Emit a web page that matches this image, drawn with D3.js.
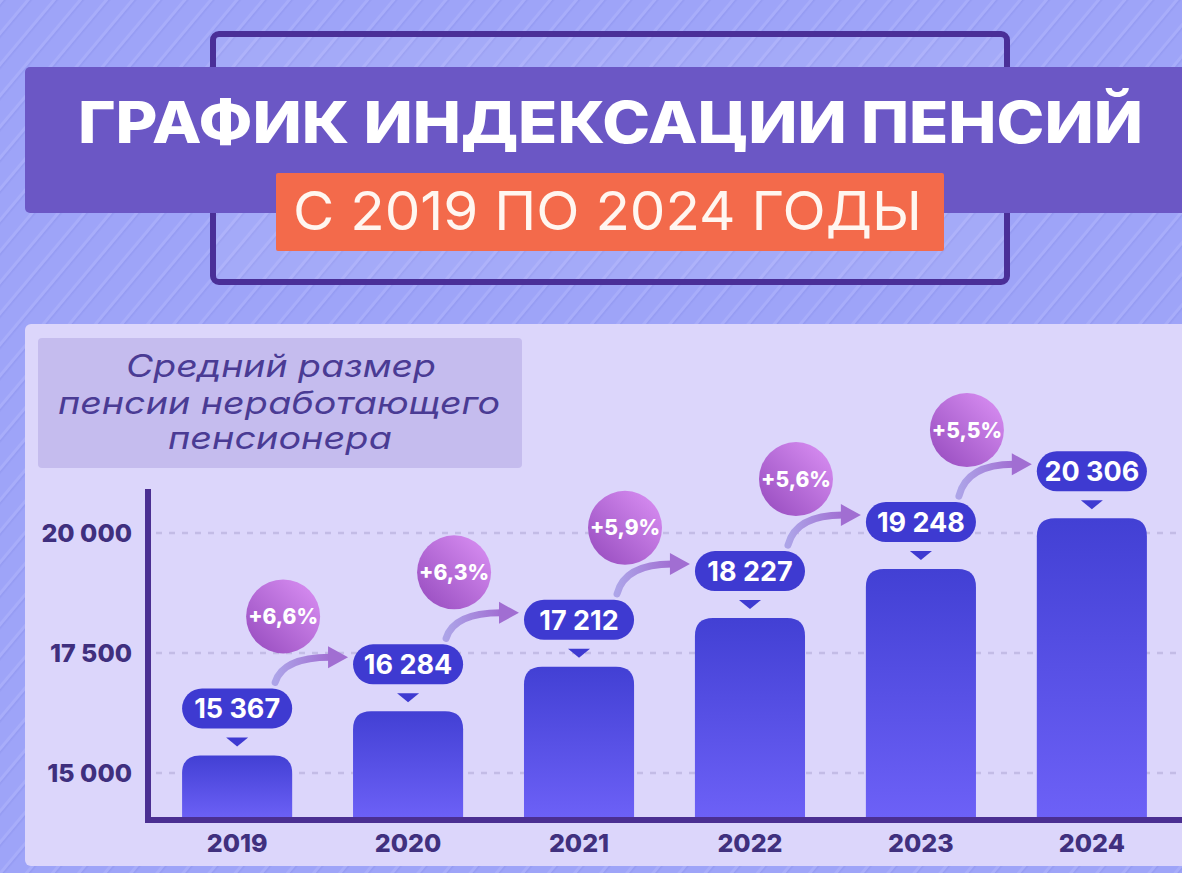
<!DOCTYPE html>
<html>
<head>
<meta charset="utf-8">
<script src="https://cdnjs.cloudflare.com/ajax/libs/d3/7.8.5/d3.min.js"></script>
<style>
  html, body { margin: 0; padding: 0; background: #9ea4f8; }
  svg { display: block; }
  text { font-family: Inter, 'Open Sans', 'Noto Sans', sans-serif; }
</style>
</head>
<body>
<svg id="chart" width="1182" height="873"></svg>
<script>
var years = ['2019', '2020', '2021', '2022', '2023', '2024'];
var pensions = [15367, 16284, 17212, 18227, 19248, 20306];
var growth = ['+6,6%', '+6,3%', '+5,9%', '+5,6%', '+5,5%'];
var yTicks = [15000, 17500, 20000];
var tickLabels = ['15 000', '17 500', '20 000'];
var valueLabels = ['15 367', '16 284', '17 212', '18 227', '19 248', '20 306'];

var TITLE = 'ГРАФИК ИНДЕКСАЦИИ ПЕНСИЙ';
var SUBTITLE = 'С 2019 ПО 2024 ГОДЫ';
var CAPTION = ['Средний размер', 'пенсии неработающего', 'пенсионера'];

var W = 1182, H = 873;
var AXIS_X = 148, AXIS_Y = 820;

var svg = d3.select('#chart');
var defs = svg.append('defs');

// striped background
var stripes = defs.append('pattern')
    .attr('id', 'stripes')
    .attr('width', 20).attr('height', 20)
    .attr('patternUnits', 'userSpaceOnUse')
    .attr('patternTransform', 'rotate(40)');
stripes.append('rect').attr('width', 20).attr('height', 20).attr('fill', '#9ea4f8');
stripes.append('rect').attr('width', 3).attr('height', 20).attr('fill', '#a8adfa');
stripes.append('rect').attr('x', 3).attr('width', 1.5).attr('height', 20).attr('fill', '#959bf2');

var barGrad = defs.append('linearGradient').attr('id', 'barGrad')
    .attr('x1', 0).attr('y1', 0).attr('x2', 0).attr('y2', 1);
barGrad.append('stop').attr('offset', '0%').attr('stop-color', '#4240d4');
barGrad.append('stop').attr('offset', '100%').attr('stop-color', '#6d61f7');

var circGrad = defs.append('linearGradient').attr('id', 'circGrad')
    .attr('x1', 0).attr('y1', 1).attr('x2', 1).attr('y2', 0);
circGrad.append('stop').attr('offset', '0%').attr('stop-color', '#9449bd');
circGrad.append('stop').attr('offset', '100%').attr('stop-color', '#dc92f5');

var arrowGrad = defs.append('linearGradient').attr('id', 'arrowGrad')
    .attr('x1', 0).attr('y1', 0).attr('x2', 1).attr('y2', 0);
arrowGrad.append('stop').attr('offset', '0%').attr('stop-color', '#ada4e8');
arrowGrad.append('stop').attr('offset', '100%').attr('stop-color', '#a16ed2');

svg.append('rect').attr('width', W).attr('height', H).attr('fill', 'url(#stripes)');

// header
svg.append('rect')
    .attr('x', 213).attr('y', 34).attr('width', 794).attr('height', 248).attr('rx', 6)
    .attr('fill', 'rgba(255,255,255,0.07)')
    .attr('stroke', '#4a2f98').attr('stroke-width', 6);

svg.append('rect')
    .attr('x', 25).attr('y', 67).attr('width', 1180).attr('height', 146).attr('rx', 5)
    .attr('fill', '#6b57c5');

svg.append('text')
    .attr('x', 78).attr('y', 143)
    .attr('textLength', 1065).attr('lengthAdjust', 'spacingAndGlyphs')
    .attr('font-size', 58).attr('font-weight', 800)
    .attr('fill', '#ffffff')
    .text(TITLE);

svg.append('rect')
    .attr('x', 276).attr('y', 173).attr('width', 668).attr('height', 78).attr('rx', 2)
    .attr('fill', '#f36a4b');

svg.append('text')
    .attr('x', 293).attr('y', 230)
    .attr('textLength', 629).attr('lengthAdjust', 'spacingAndGlyphs')
    .attr('font-size', 54).attr('font-weight', 400)
    .attr('fill', '#fff6f0')
    .text(SUBTITLE);

// chart panel
svg.append('rect')
    .attr('x', 25).attr('y', 324).attr('width', 1180).attr('height', 542).attr('rx', 6)
    .attr('fill', '#dcd6fb');

svg.append('rect')
    .attr('x', 38).attr('y', 338).attr('width', 484).attr('height', 130).attr('rx', 4)
    .attr('fill', '#c5bcee');

var captionX = [126, 58, 168];
var captionLen = [310, 442, 224];
svg.append('g').selectAll('text')
    .data(CAPTION)
    .join('text')
    .attr('x', function (d, i) { return captionX[i]; })
    .attr('y', function (d, i) { return [377, 414, 449][i]; })
    .attr('textLength', function (d, i) { return captionLen[i]; })
    .attr('lengthAdjust', 'spacingAndGlyphs')
    .attr('font-family', "'Noto Sans', 'Open Sans', sans-serif")
    .attr('font-style', 'italic')
    .attr('font-size', 31)
    .attr('fill', '#4a3b94')
    .text(function (d) { return d; });

var x = d3.scaleBand()
    .domain(years)
    .range([152, 1177])
    .paddingInner(0.356)
    .paddingOuter(0.176);

var y = d3.scaleLinear()
    .domain([14000, 21000])
    .range([821, 485]);

// gridlines
svg.append('g').selectAll('line')
    .data(yTicks)
    .join('line')
    .attr('x1', 156).attr('x2', W)
    .attr('y1', function (d) { return y(d); })
    .attr('y2', function (d) { return y(d); })
    .attr('stroke', '#c3bce6').attr('stroke-width', 2.5)
    .attr('stroke-dasharray', '6,7');

var yAxis = svg.append('g')
    .attr('transform', 'translate(132,0)')
    .call(d3.axisLeft(y).tickValues(yTicks).tickSize(0).tickPadding(0)
        .tickFormat(function (d, i) { return tickLabels[i]; }));
yAxis.select('.domain').remove();
yAxis.selectAll('text')
    .attr('font-family', "Inter, 'Open Sans', sans-serif")
    .attr('font-size', 25).attr('font-weight', 800)
    .attr('fill', '#3f2f7e');

var xAxis = svg.append('g')
    .attr('transform', 'translate(0,852)')
    .call(d3.axisBottom(x).tickSize(0).tickPadding(0));
xAxis.select('.domain').remove();
xAxis.selectAll('text')
    .attr('dy', 0)
    .attr('font-family', "Inter, 'Open Sans', sans-serif")
    .attr('font-size', 25).attr('font-weight', 800)
    .attr('fill', '#40307e');

function topRounded(x0, y0, w, h, r) {
  return 'M' + x0 + ',' + (y0 + h) +
      'V' + (y0 + r) +
      'Q' + x0 + ',' + y0 + ' ' + (x0 + r) + ',' + y0 +
      'H' + (x0 + w - r) +
      'Q' + (x0 + w) + ',' + y0 + ' ' + (x0 + w) + ',' + (y0 + r) +
      'V' + (y0 + h) + 'Z';
}

var bw = x.bandwidth();

// bars
svg.append('g').selectAll('path')
    .data(pensions)
    .join('path')
    .attr('d', function (d, i) {
      return topRounded(x(years[i]), y(d), bw, AXIS_Y - y(d), 18);
    })
    .attr('fill', 'url(#barGrad)');

// axis lines
svg.append('line')
    .attr('x1', AXIS_X).attr('x2', AXIS_X).attr('y1', 489).attr('y2', AXIS_Y + 3)
    .attr('stroke', '#4b2f92').attr('stroke-width', 6);
svg.append('line')
    .attr('x1', AXIS_X - 3).attr('x2', W).attr('y1', AXIS_Y).attr('y2', AXIS_Y)
    .attr('stroke', '#4b2f92').attr('stroke-width', 6);

// arrows between labels
var arrows = svg.append('g');
growth.forEach(function (g, i) {
  var cx = x(years[i]) + bw / 2;
  var sx = cx + 38, sy = y(pensions[i]) - 67 - 6;
  var tx = x(years[i + 1]) - 5, ty = y(pensions[i + 1]) - 67 + 13;
  arrows.append('path')
      .attr('d', 'M' + sx + ',' + sy + 'Q' + (sx + 8) + ',' + ty + ' ' + (tx - 18) + ',' + ty)
      .attr('fill', 'none')
      .attr('stroke', 'url(#arrowGrad)').attr('stroke-width', 7)
      .attr('stroke-linecap', 'round');
  arrows.append('path')
      .attr('d', 'M' + tx + ',' + ty + 'L' + (tx - 20) + ',' + (ty - 11) + 'L' + (tx - 20) + ',' + (ty + 11) + 'Z')
      .attr('fill', '#a16ed2');
});

// value pills
var pills = svg.append('g').selectAll('g')
    .data(pensions)
    .join('g');
pills.append('rect')
    .attr('x', function (d, i) { return x(years[i]); })
    .attr('y', function (d) { return y(d) - 67; })
    .attr('width', bw).attr('height', 40).attr('rx', 20)
    .attr('fill', '#3e3ad1');
pills.append('path')
    .attr('d', function (d, i) {
      var cx = x(years[i]) + bw / 2, t = y(d);
      return 'M' + (cx - 11) + ',' + (t - 18) + 'L' + (cx + 11) + ',' + (t - 18) + 'L' + cx + ',' + (t - 9) + 'Z';
    })
    .attr('fill', '#3e3ad1');
pills.append('text')
    .attr('x', function (d, i) { return x(years[i]) + bw / 2; })
    .attr('y', function (d) { return y(d) - 47; })
    .attr('dy', '0.36em')
    .attr('text-anchor', 'middle')
    .attr('font-size', 27).attr('font-weight', 700)
    .attr('fill', '#ffffff')
    .text(function (d, i) { return valueLabels[i]; });

// growth circles
var bubbles = svg.append('g').selectAll('g')
    .data(growth)
    .join('g')
    .attr('transform', function (d, i) {
      return 'translate(' + (x(years[i]) + bw / 2 + 46) + ',' + (y(pensions[i]) - 139) + ')';
    });
bubbles.append('circle').attr('r', 37).attr('fill', 'url(#circGrad)');
bubbles.append('text')
    .attr('text-anchor', 'middle').attr('dy', '0.36em')
    .attr('font-size', 21).attr('font-weight', 800)
    .attr('fill', '#ffffff')
    .text(function (d) { return d; });
</script>
</body>
</html>
